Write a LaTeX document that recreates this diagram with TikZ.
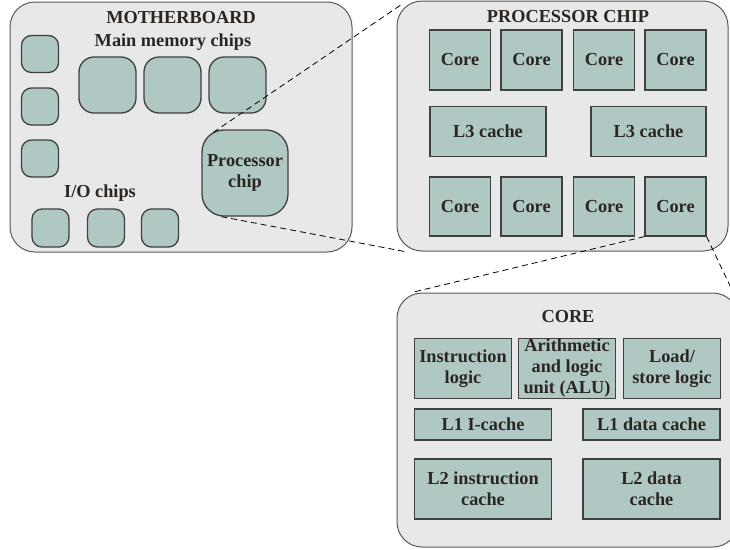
\documentclass[tikz,border=0pt]{standalone}
\usepackage{fontspec}
\setmainfont{Liberation Serif}
\usetikzlibrary{positioning}

\definecolor{boardgray}{HTML}{E8E8E8}
\definecolor{chipteal}{HTML}{AFC8C3}
\definecolor{inkdark}{HTML}{2B2622}

\begin{document}
\begin{tikzpicture}[
		x=1pt, y=-1pt,
		every node/.style={font=\fontsize{18.3}{21}\selectfont\bfseries, text=inkdark, align=center, inner sep=0pt},
		board/.style={draw=black!65, fill=boardgray, line width=1pt, rounded corners=25pt},
		chip/.style={draw=black!75, fill=chipteal, line width=1.3pt, rounded corners=#1},
		chip/.default=10pt,
		unit/.style={draw=black!75, fill=chipteal, line width=1.1pt},
		zoomline/.style={dash pattern=on 6pt off 4pt, line width=0.8pt}
		]
		\useasboundingbox (0,0) rectangle (730,549);
		\clip (0,0) rectangle (730,549);

		% motherboard
		\node[board, minimum width=342pt, minimum height=250pt] (mboard) at (181,127) {};
		\node (mtitle) at (181,18) {MOTHERBOARD};
		\node (memlabel) at (173,42) {Main memory chips};
		\node (iolabel) at (100,193) {I/O chips};
		\foreach \y [count=\i] in {54,106.5,158.5}
			\node[chip, minimum width=37pt, minimum height=37pt] (side\i) at (40,\y) {};
		\foreach \x [count=\i] in {107.5,172.5,237.5}
			\node[chip=15pt, minimum width=57pt, minimum height=56pt] (mem\i) at (\x,85) {};
		\foreach \x [count=\i] in {50.5,106,160}
			\node[chip, minimum width=37pt, minimum height=38pt] (io\i) at (\x,228) {};
		\node[chip=22pt, minimum width=86pt, minimum height=86pt] (pchip) at (245,173) {Processor\\chip};

		% processor chip
		\node[board, minimum width=331pt, minimum height=250pt] (pbox) at (562.5,126) {};
		\node (ptitle) at (568,17) {PROCESSOR CHIP};
		\foreach \x [count=\i] in {460,531.5,604,675.5} {
			\node[unit, minimum width=61pt, minimum height=60pt] (core\i) at (\x,60) {Core};
			\node[unit, minimum width=61pt, minimum height=59pt] (lcore\i) at (\x,206.5) {Core};
		}
		\node[unit, minimum width=116pt, minimum height=50pt] (lthree1) at (488,131.5) {L3 cache};
		\node[unit, minimum width=115pt, minimum height=50pt] (lthree2) at (648.5,131.5) {L3 cache};

		% one core
		\node[board, minimum width=341pt, minimum height=254pt] (cbox) at (567.5,420) {};
		\node (ctitle) at (568,317) {CORE};
		\node[unit, minimum width=97pt, minimum height=60pt] (ilogic) at (463,368.5) {Instruction\\logic};
		\node[unit, minimum width=97pt, minimum height=60pt] (alu) at (567,368.5) {Arithmetic\\and logic\\unit (ALU)};
		\node[unit, minimum width=97pt, minimum height=60pt] (lslogic) at (672,368.5) {Load/\\store logic};
		\node[unit, minimum width=137pt, minimum height=31pt] (loneI) at (483,424.5) {L1 I-cache};
		\node[unit, minimum width=137pt, minimum height=31pt] (loneD) at (651.5,424.5) {L1 data cache};
		\node[unit, minimum width=137pt, minimum height=60pt] (ltwoI) at (483,489) {L2 instruction\\cache};
		\node[unit, minimum width=137pt, minimum height=60pt] (ltwoD) at (651.5,489) {L2 data\\cache};

		% zoom lines
		\draw[zoomline] ([xshift=12pt,yshift=-3pt]pchip.north west) -- ([xshift=5pt,yshift=-4pt]pbox.north west);
		\draw[zoomline] ([xshift=20pt]pchip.south west) -- ([xshift=8pt]pbox.south west);
		\draw[zoomline] (lcore4.south west) -- ([xshift=15pt]cbox.north west);
		\draw[zoomline] (lcore4.south east) -- ([yshift=-11pt]cbox.north east);
	\end{tikzpicture}
\end{document}
